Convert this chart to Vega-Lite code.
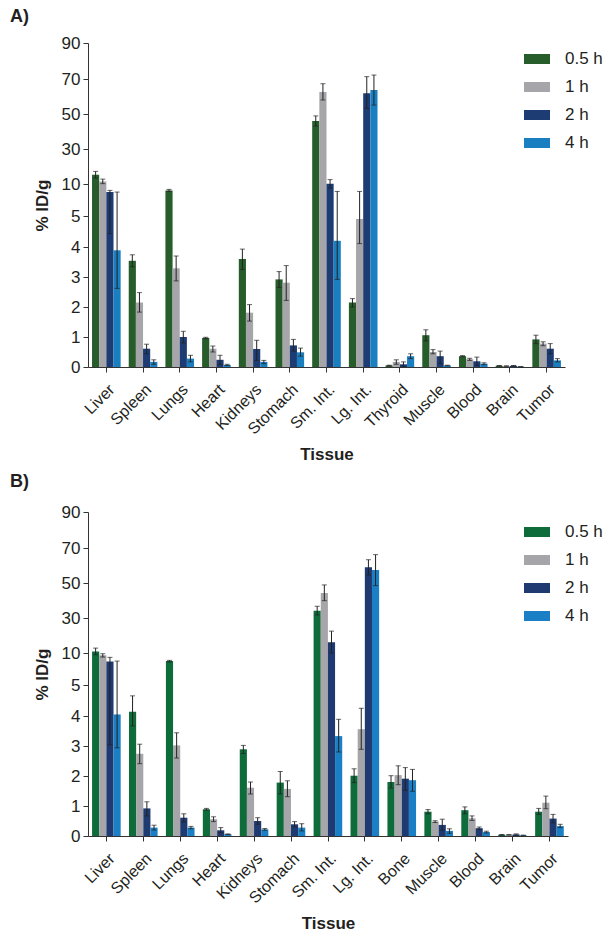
{
  "$schema": "https://vega.github.io/schema/vega-lite/v6.json",
  "padding": {"left": 10, "top": 8, "right": 4, "bottom": 4},
  "background": "white",
  "config": {
    "font": "Liberation Sans",
    "view": {"stroke": null},
    "axis": {"labelFont": "Liberation Sans", "labelFontSize": 16, "labelColor": "#231f20", "titleFont": "Liberation Sans", "titleFontSize": 17, "titleFontWeight": "bold", "titleColor": "#231f20", "domainColor": "#333333", "tickColor": "#333333", "tickSize": 5, "grid": false, "labelOverlap": false},
    "legend": {"labelFont": "Liberation Sans", "labelFontSize": 17, "labelColor": "#231f20"},
    "title": {"font": "Liberation Sans", "fontSize": 18, "fontWeight": "bold", "color": "#231f20", "anchor": "start", "frame": "bounds"}
  },
  "datasets": {
    "a": [
      {"t": "Liver", "time": "0.5 h", "v": 15.3, "lo": 13.4, "hi": 17.2},
      {"t": "Liver", "time": "1 h", "v": 11.5, "lo": 10.2, "hi": 12.8},
      {"t": "Liver", "time": "2 h", "v": 8.74, "lo": 4.43, "hi": 9.0},
      {"t": "Liver", "time": "4 h", "v": 3.89, "lo": 2.62, "hi": 8.74},
      {"t": "Spleen", "time": "0.5 h", "v": 3.54, "lo": 3.34, "hi": 3.74},
      {"t": "Spleen", "time": "1 h", "v": 2.15, "lo": 1.83, "hi": 2.48},
      {"t": "Spleen", "time": "2 h", "v": 0.61, "lo": 0.44, "hi": 0.76},
      {"t": "Spleen", "time": "4 h", "v": 0.17, "lo": 0.09, "hi": 0.24},
      {"t": "Lungs", "time": "0.5 h", "v": 9.0, "lo": 8.84, "hi": 9.16},
      {"t": "Lungs", "time": "1 h", "v": 3.29, "lo": 2.87, "hi": 3.70},
      {"t": "Lungs", "time": "2 h", "v": 1.0, "lo": 0.80, "hi": 1.19},
      {"t": "Lungs", "time": "4 h", "v": 0.28, "lo": 0.17, "hi": 0.39},
      {"t": "Heart", "time": "0.5 h", "v": 0.97, "lo": 0.94, "hi": 0.99},
      {"t": "Heart", "time": "1 h", "v": 0.61, "lo": 0.50, "hi": 0.70},
      {"t": "Heart", "time": "2 h", "v": 0.24, "lo": 0.08, "hi": 0.39},
      {"t": "Heart", "time": "4 h", "v": 0.07, "lo": 0.05, "hi": 0.09},
      {"t": "Kidneys", "time": "0.5 h", "v": 3.60, "lo": 3.25, "hi": 3.93},
      {"t": "Kidneys", "time": "1 h", "v": 1.81, "lo": 1.53, "hi": 2.08},
      {"t": "Kidneys", "time": "2 h", "v": 0.60, "lo": 0.22, "hi": 0.89},
      {"t": "Kidneys", "time": "4 h", "v": 0.17, "lo": 0.11, "hi": 0.22},
      {"t": "Stomach", "time": "0.5 h", "v": 2.92, "lo": 2.65, "hi": 3.18},
      {"t": "Stomach", "time": "1 h", "v": 2.81, "lo": 2.22, "hi": 3.38},
      {"t": "Stomach", "time": "2 h", "v": 0.72, "lo": 0.53, "hi": 0.92},
      {"t": "Stomach", "time": "4 h", "v": 0.49, "lo": 0.36, "hi": 0.63},
      {"t": "Sm. Int.", "time": "0.5 h", "v": 46.0, "lo": 43.1, "hi": 48.9},
      {"t": "Sm. Int.", "time": "1 h", "v": 62.6, "lo": 58.0, "hi": 67.3},
      {"t": "Sm. Int.", "time": "2 h", "v": 10.2, "lo": 9.37, "hi": 12.5},
      {"t": "Sm. Int.", "time": "4 h", "v": 4.2, "lo": 2.92, "hi": 8.84},
      {"t": "Lg. Int.", "time": "0.5 h", "v": 2.15, "lo": 2.0, "hi": 2.28},
      {"t": "Lg. Int.", "time": "1 h", "v": 4.90, "lo": 4.11, "hi": 8.84},
      {"t": "Lg. Int.", "time": "2 h", "v": 61.8, "lo": 53.2, "hi": 71.3},
      {"t": "Lg. Int.", "time": "4 h", "v": 63.7, "lo": 55.1, "hi": 72.2},
      {"t": "Thyroid", "time": "0.5 h", "v": 0.05, "lo": 0.04, "hi": 0.06},
      {"t": "Thyroid", "time": "1 h", "v": 0.17, "lo": 0.09, "hi": 0.24},
      {"t": "Thyroid", "time": "2 h", "v": 0.09, "lo": 0.02, "hi": 0.17},
      {"t": "Thyroid", "time": "4 h", "v": 0.36, "lo": 0.28, "hi": 0.44},
      {"t": "Muscle", "time": "0.5 h", "v": 1.06, "lo": 0.87, "hi": 1.24},
      {"t": "Muscle", "time": "1 h", "v": 0.50, "lo": 0.44, "hi": 0.58},
      {"t": "Muscle", "time": "2 h", "v": 0.36, "lo": 0.11, "hi": 0.53},
      {"t": "Muscle", "time": "4 h", "v": 0.05, "lo": 0.04, "hi": 0.06},
      {"t": "Blood", "time": "0.5 h", "v": 0.36, "lo": 0.34, "hi": 0.38},
      {"t": "Blood", "time": "1 h", "v": 0.26, "lo": 0.22, "hi": 0.29},
      {"t": "Blood", "time": "2 h", "v": 0.19, "lo": 0.06, "hi": 0.33},
      {"t": "Blood", "time": "4 h", "v": 0.11, "lo": 0.08, "hi": 0.14},
      {"t": "Brain", "time": "0.5 h", "v": 0.04, "lo": 0.03, "hi": 0.05},
      {"t": "Brain", "time": "1 h", "v": 0.03, "lo": 0.02, "hi": 0.04},
      {"t": "Brain", "time": "2 h", "v": 0.04, "lo": 0.03, "hi": 0.05},
      {"t": "Brain", "time": "4 h", "v": 0.01, "lo": 0.01, "hi": 0.01},
      {"t": "Tumor", "time": "0.5 h", "v": 0.92, "lo": 0.78, "hi": 1.06},
      {"t": "Tumor", "time": "1 h", "v": 0.78, "lo": 0.71, "hi": 0.84},
      {"t": "Tumor", "time": "2 h", "v": 0.61, "lo": 0.44, "hi": 0.78},
      {"t": "Tumor", "time": "4 h", "v": 0.22, "lo": 0.17, "hi": 0.28}
    ],
    "b": [
      {"t": "Liver", "time": "0.5 h", "v": 10.9, "lo": 9.74, "hi": 12.8},
      {"t": "Liver", "time": "1 h", "v": 9.63, "lo": 9.37, "hi": 9.89},
      {"t": "Liver", "time": "2 h", "v": 8.68, "lo": 3.04, "hi": 9.32},
      {"t": "Liver", "time": "4 h", "v": 4.05, "lo": 2.94, "hi": 8.74},
      {"t": "Spleen", "time": "0.5 h", "v": 4.14, "lo": 3.67, "hi": 4.65},
      {"t": "Spleen", "time": "1 h", "v": 2.74, "lo": 2.41, "hi": 3.06},
      {"t": "Spleen", "time": "2 h", "v": 0.92, "lo": 0.67, "hi": 1.14},
      {"t": "Spleen", "time": "4 h", "v": 0.28, "lo": 0.20, "hi": 0.36},
      {"t": "Lungs", "time": "0.5 h", "v": 8.74, "lo": 8.6, "hi": 8.85},
      {"t": "Lungs", "time": "1 h", "v": 3.02, "lo": 2.6, "hi": 3.44},
      {"t": "Lungs", "time": "2 h", "v": 0.61, "lo": 0.47, "hi": 0.74},
      {"t": "Lungs", "time": "4 h", "v": 0.28, "lo": 0.24, "hi": 0.32},
      {"t": "Heart", "time": "0.5 h", "v": 0.89, "lo": 0.86, "hi": 0.92},
      {"t": "Heart", "time": "1 h", "v": 0.56, "lo": 0.48, "hi": 0.64},
      {"t": "Heart", "time": "2 h", "v": 0.19, "lo": 0.11, "hi": 0.28},
      {"t": "Heart", "time": "4 h", "v": 0.06, "lo": 0.05, "hi": 0.07},
      {"t": "Kidneys", "time": "0.5 h", "v": 2.89, "lo": 2.75, "hi": 3.02},
      {"t": "Kidneys", "time": "1 h", "v": 1.61, "lo": 1.40, "hi": 1.80},
      {"t": "Kidneys", "time": "2 h", "v": 0.50, "lo": 0.39, "hi": 0.61},
      {"t": "Kidneys", "time": "4 h", "v": 0.22, "lo": 0.19, "hi": 0.25},
      {"t": "Stomach", "time": "0.5 h", "v": 1.78, "lo": 1.40, "hi": 2.15},
      {"t": "Stomach", "time": "1 h", "v": 1.57, "lo": 1.31, "hi": 1.84},
      {"t": "Stomach", "time": "2 h", "v": 0.39, "lo": 0.30, "hi": 0.48},
      {"t": "Stomach", "time": "4 h", "v": 0.28, "lo": 0.17, "hi": 0.41},
      {"t": "Sm. Int.", "time": "0.5 h", "v": 34.2, "lo": 31.7, "hi": 36.7},
      {"t": "Sm. Int.", "time": "1 h", "v": 44.3, "lo": 39.9, "hi": 48.9},
      {"t": "Sm. Int.", "time": "2 h", "v": 16.2, "lo": 10.0, "hi": 22.5},
      {"t": "Sm. Int.", "time": "4 h", "v": 3.33, "lo": 2.8, "hi": 3.89},
      {"t": "Lg. Int.", "time": "0.5 h", "v": 2.01, "lo": 1.78, "hi": 2.24},
      {"t": "Lg. Int.", "time": "1 h", "v": 3.56, "lo": 2.89, "hi": 4.25},
      {"t": "Lg. Int.", "time": "2 h", "v": 59.0, "lo": 54.6, "hi": 63.3},
      {"t": "Lg. Int.", "time": "4 h", "v": 57.4, "lo": 48.5, "hi": 66.2},
      {"t": "Bone", "time": "0.5 h", "v": 1.80, "lo": 1.60, "hi": 2.01},
      {"t": "Bone", "time": "1 h", "v": 2.03, "lo": 1.71, "hi": 2.34},
      {"t": "Bone", "time": "2 h", "v": 1.91, "lo": 1.52, "hi": 2.28},
      {"t": "Bone", "time": "4 h", "v": 1.86, "lo": 1.49, "hi": 2.22},
      {"t": "Muscle", "time": "0.5 h", "v": 0.81, "lo": 0.74, "hi": 0.88},
      {"t": "Muscle", "time": "1 h", "v": 0.48, "lo": 0.45, "hi": 0.51},
      {"t": "Muscle", "time": "2 h", "v": 0.37, "lo": 0.19, "hi": 0.56},
      {"t": "Muscle", "time": "4 h", "v": 0.17, "lo": 0.09, "hi": 0.24},
      {"t": "Blood", "time": "0.5 h", "v": 0.86, "lo": 0.74, "hi": 0.97},
      {"t": "Blood", "time": "1 h", "v": 0.59, "lo": 0.52, "hi": 0.67},
      {"t": "Blood", "time": "2 h", "v": 0.26, "lo": 0.22, "hi": 0.30},
      {"t": "Blood", "time": "4 h", "v": 0.13, "lo": 0.10, "hi": 0.16},
      {"t": "Brain", "time": "0.5 h", "v": 0.04, "lo": 0.03, "hi": 0.05},
      {"t": "Brain", "time": "1 h", "v": 0.04, "lo": 0.03, "hi": 0.05},
      {"t": "Brain", "time": "2 h", "v": 0.05, "lo": 0.03, "hi": 0.07},
      {"t": "Brain", "time": "4 h", "v": 0.02, "lo": 0.01, "hi": 0.03},
      {"t": "Tumor", "time": "0.5 h", "v": 0.81, "lo": 0.72, "hi": 0.92},
      {"t": "Tumor", "time": "1 h", "v": 1.11, "lo": 0.91, "hi": 1.33},
      {"t": "Tumor", "time": "2 h", "v": 0.58, "lo": 0.44, "hi": 0.72},
      {"t": "Tumor", "time": "4 h", "v": 0.33, "lo": 0.28, "hi": 0.39}
    ]
  },
  "spacing": 10,
  "vconcat": [
    {
      "title": {"text": "A)", "dx": -23, "offset": 8},
      "width": 477,
      "height": 324,
      "data": {"name": "a"},
      "encoding": {
        "x": {"field": "t", "type": "nominal", "sort": null, "title": "Tissue",
              "scale": {"paddingInner": 0.22, "paddingOuter": 0.11},
              "axis": {"labelAngle": -45, "labelAlign": "right", "labelBaseline": "top", "labelPadding": 9, "titlePadding": 10, "labelOverlap": false}},
        "xOffset": {"field": "time", "type": "nominal", "sort": ["0.5 h", "1 h", "2 h", "4 h"], "scale": {"paddingInner": 0, "paddingOuter": 0}}
      },
      "layer": [
        {
          "mark": {"type": "bar"},
          "encoding": {
            "y": {"field": "v", "type": "quantitative", "title": "% ID/g",
                  "scale": {"domain": [0, 1, 2, 3, 4, 5, 10, 30, 50, 70, 90], "range": [324, 294, 264, 234, 204, 173, 141, 106, 71, 36, 0], "nice": false, "zero": false},
                  "axis": {"values": [0, 1, 2, 3, 4, 5, 10, 30, 50, 70, 90], "tickCount": 20, "labelPadding": 3, "titlePadding": 10, "labelFontSize": 17, "labelOverlap": false, "labelBound": false}},
            "color": {"field": "time", "type": "nominal", "sort": ["0.5 h", "1 h", "2 h", "4 h"],
                      "scale": {"domain": ["0.5 h", "1 h", "2 h", "4 h"], "range": ["#275c2b", "#a6a6aa", "#1d3c73", "#1a7fc1"]},
                      "legend": {"title": null, "orient": "none", "legendX": 436, "legendY": 3, "symbolType": "M-1,-0.385H1V0.385H-1Z", "symbolSize": 676, "symbolStrokeWidth": 0, "labelOffset": 15, "rowPadding": 7}}
          }
        },
        {
          "mark": {"type": "rule", "color": "#222222", "strokeWidth": 1},
          "encoding": {"y": {"field": "lo", "type": "quantitative"}, "y2": {"field": "hi"}}
        },
        {
          "mark": {"type": "tick", "color": "#222222", "thickness": 1, "size": 5},
          "encoding": {"y": {"field": "hi", "type": "quantitative"}}
        },
        {
          "mark": {"type": "tick", "color": "#222222", "thickness": 1, "size": 5},
          "encoding": {"y": {"field": "lo", "type": "quantitative"}}
        }
      ]
    },
    {
      "title": {"text": "B)", "dx": -23, "offset": 12},
      "width": 480,
      "height": 324,
      "data": {"name": "b"},
      "encoding": {
        "x": {"field": "t", "type": "nominal", "sort": null, "title": "Tissue",
              "scale": {"paddingInner": 0.22, "paddingOuter": 0.11},
              "axis": {"labelAngle": -45, "labelAlign": "right", "labelBaseline": "top", "labelPadding": 9, "titlePadding": 10, "labelOverlap": false}},
        "xOffset": {"field": "time", "type": "nominal", "sort": ["0.5 h", "1 h", "2 h", "4 h"], "scale": {"paddingInner": 0, "paddingOuter": 0}}
      },
      "layer": [
        {
          "mark": {"type": "bar"},
          "encoding": {
            "y": {"field": "v", "type": "quantitative", "title": "% ID/g",
                  "scale": {"domain": [0, 1, 2, 3, 4, 5, 10, 30, 50, 70, 90], "range": [324, 294, 264, 234, 204, 173, 141, 106, 71, 36, 0], "nice": false, "zero": false},
                  "axis": {"values": [0, 1, 2, 3, 4, 5, 10, 30, 50, 70, 90], "tickCount": 20, "labelPadding": 3, "titlePadding": 10, "labelFontSize": 17, "labelOverlap": false, "labelBound": false}},
            "color": {"field": "time", "type": "nominal", "sort": ["0.5 h", "1 h", "2 h", "4 h"],
                      "scale": {"domain": ["0.5 h", "1 h", "2 h", "4 h"], "range": ["#0e6b3a", "#a6a6aa", "#1e3a70", "#1a7fc4"]},
                      "legend": {"title": null, "orient": "none", "legendX": 436, "legendY": 7, "symbolType": "M-1,-0.385H1V0.385H-1Z", "symbolSize": 676, "symbolStrokeWidth": 0, "labelOffset": 15, "rowPadding": 7}}
          }
        },
        {
          "mark": {"type": "rule", "color": "#222222", "strokeWidth": 1},
          "encoding": {"y": {"field": "lo", "type": "quantitative"}, "y2": {"field": "hi"}}
        },
        {
          "mark": {"type": "tick", "color": "#222222", "thickness": 1, "size": 5},
          "encoding": {"y": {"field": "hi", "type": "quantitative"}}
        },
        {
          "mark": {"type": "tick", "color": "#222222", "thickness": 1, "size": 5},
          "encoding": {"y": {"field": "lo", "type": "quantitative"}}
        }
      ]
    }
  ],
  "resolve": {"scale": {"color": "independent"}}
}
